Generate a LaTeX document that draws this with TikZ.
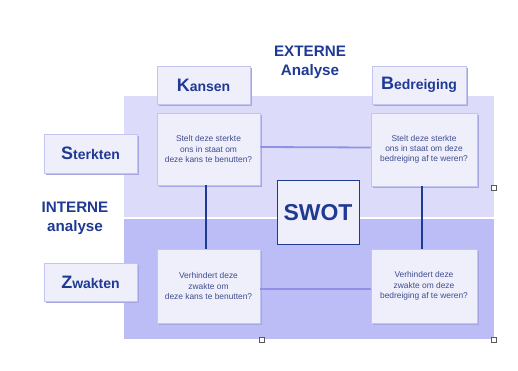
\documentclass[tikz,border=0pt]{standalone}
\usepackage{fontspec}
\setmainfont{Liberation Sans}
\usetikzlibrary{shadows}
\definecolor{panelup}{HTML}{DCDCFA}
\definecolor{paneldown}{HTML}{BCBCF6}
\definecolor{boxfill}{HTML}{EFEFFC}
\definecolor{boxline}{HTML}{C4C4F0}
\definecolor{shadowc}{HTML}{A6A6E2}
\definecolor{navy}{HTML}{1F3A93}
\definecolor{qtext}{HTML}{3E4C8E}
\definecolor{hline}{HTML}{9090E6}
\tikzset{
  card/.style={draw=boxline, line width=0.8pt, fill=boxfill,
    general shadow={fill=shadowc, shadow xshift=2pt, shadow yshift=-2pt},
    inner sep=0pt, align=center},
  labelbox/.style={card, text=navy, font=\fontsize{14}{16}\selectfont\bfseries},
  qbox/.style={card, text=qtext, font=\fontsize{8.4}{10.3}\selectfont},
  swotbox/.style={draw=navy, line width=1pt, fill=boxfill, text=navy,
    font=\fontsize{23}{25}\selectfont\bfseries, minimum width=82pt, minimum height=63pt},
  heading/.style={text=navy, font=\fontsize{15.2}{19}\selectfont\bfseries, align=center},
  vconn/.style={draw=navy, line width=1.6pt},
  hconn/.style={draw=hline, line width=1.8pt},
  handle/.style={draw=gray!70!black, fill=white, line width=0.5pt}
}
\newcommand{\bigL}[1]{{\fontsize{18}{18}\selectfont #1}}
\begin{document}
\begin{tikzpicture}[x=1pt,y=-1pt]
\useasboundingbox (0,0) rectangle (518,371);
% panels
\fill[panelup] (124,96) rectangle (494,216.5);
\fill[paneldown] (124,218.5) rectangle (494,339);
% headings
\node[heading] (ext) at (310,62) {EXTERNE\\Analyse};
\node[heading] (int) at (75,218) {INTERNE\\analyse};
% label boxes
\node[labelbox, minimum width=93pt, minimum height=38pt] (kansen) at (203.5,85) {\bigL{K}ansen};
\node[labelbox, minimum width=94pt, minimum height=38pt] (bedr) at (419,85) {\bigL{B}edreiging};
\node[labelbox, minimum width=93pt, minimum height=39pt] (sterk) at (90.5,153.5) {\bigL{S}terkten};
\node[labelbox, minimum width=93pt, minimum height=38pt] (zwak) at (90.5,282) {\bigL{Z}wakten};
% question boxes
\node[qbox, minimum width=103pt, minimum height=72pt] (q1) at (208.5,149) {Stelt deze sterkte\\ons in staat om\\deze kans te benutten?};
\node[qbox, minimum width=106pt, minimum height=73pt] (q2) at (424,149.5) {Stelt deze sterkte\\ons in staat om deze\\bedreiging af te weren?};
\node[qbox, minimum width=103pt, minimum height=74pt] (q3) at (208.5,286) {Verhindert deze\\zwakte om\\deze kans te benutten?};
\node[qbox, minimum width=106pt, minimum height=74pt] (q4) at (424,286) {Verhindert deze\\zwakte om deze\\bedreiging af te weren?};
% connectors
\draw[hconn] ([yshift=2pt]q1.east) -- ([yshift=2pt]q2.west);
\draw[hconn] ([yshift=-3pt]q3.east) -- ([yshift=-3pt]q4.west);
\draw[vconn] ([xshift=-2.5pt]q1.south) -- ([xshift=-2.5pt]q3.north);
\draw[vconn] ([xshift=-2pt]q2.south) -- ([xshift=-2pt]q4.north);
% SWOT
\node[swotbox] (swot) at (318,212.5) {SWOT};
% selection handles
\draw[handle] (491.5,185.5) rectangle (496.5,190.5);
\draw[handle] (491.5,337.5) rectangle (496.5,342.5);
\draw[handle] (259.5,337.5) rectangle (264.5,342.5);
\end{tikzpicture}
\end{document}
